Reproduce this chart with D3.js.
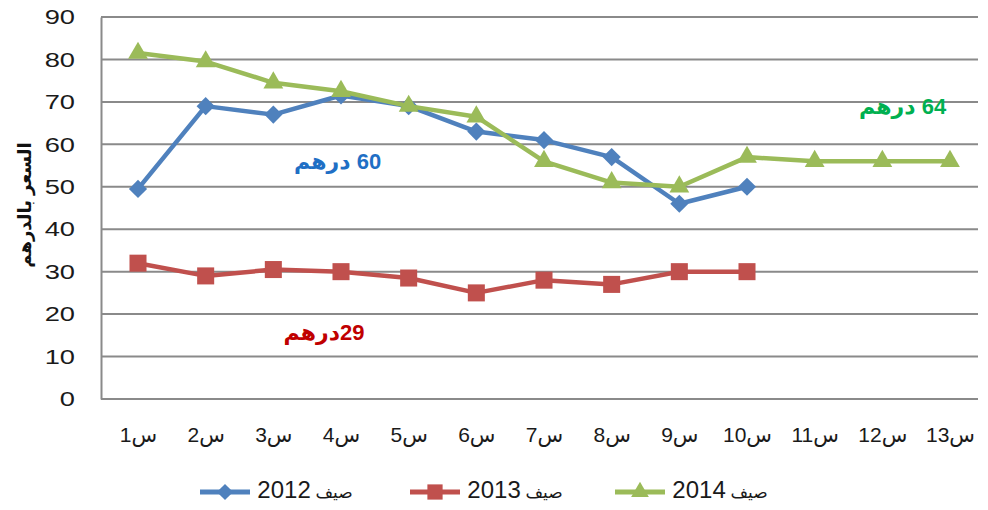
<!DOCTYPE html>
<html>
<head>
<meta charset="utf-8">
<script src="https://cdn.jsdelivr.net/npm/d3@7"></script>
<style>
  body { margin: 0; background: #fff; }
  text { font-family: "Liberation Sans", Arial, "DejaVu Sans", sans-serif; }
</style>
</head>
<body>
<svg id="chart" width="988" height="510"></svg>
<script>
// prices per week, summers 2012-2014
var categories = ["س1", "س2", "س3", "س4", "س5", "س6", "س7", "س8", "س9", "س10", "س11", "س12", "س13"];
var summer2012 = [49.5, 69, 67, 71.5, 69, 63, 61, 57, 46, 50];
var summer2013 = [32, 29, 30.5, 30, 28.5, 25, 28, 27, 30, 30];
var summer2014 = [81.5, 79.5, 74.5, 72.5, 69, 66.5, 56, 51, 50, 57, 56, 56, 56];
var seasonWord = "صيف";
var years = ["2012", "2013", "2014"];
var yTicks = [0, 10, 20, 30, 40, 50, 60, 70, 80, 90];
var yTitle = "السعر بالدرهم";
// notes: text, position in category units (1-based), value
var notes = [
  { text: "60 درهم", at: 3.95, value: 56, color: "#1f6fc5" },
  { text: "29درهم", at: 3.75, value: 15.6, color: "#c00000" },
  { text: "64 درهم", at: 12.3, value: 69, color: "#00b050" }
];

var svg = d3.select("#chart");
var margin = {top: 17, right: 7, bottom: 111, left: 101},
    width = +svg.attr("width") - margin.left - margin.right,
    height = +svg.attr("height") - margin.top - margin.bottom,
    g = svg.append("g").attr("transform", "translate(" + margin.left + "," + margin.top + ")");

var x = d3.scalePoint()
    .domain(categories)
    .range([37, width - 31]);

var y = d3.scaleLinear()
    .domain([0, 90])
    .range([height, 0]);

var colors = ["#4f81bd", "#c0504d", "#9bbb59"];
var symbols = [d3.symbolSquare, d3.symbolSquare, d3.symbolTriangle];
var symSize = [165, 290, 170];
var symRot = [45, 0, 0];
var stretch = 1.3; // reference text is drawn wide

// gridlines
g.selectAll(".grid")
  .data(yTicks)
  .enter().append("line")
    .attr("x1", 0)
    .attr("x2", width - 3)
    .attr("y1", function(d) { return y(d); })
    .attr("y2", function(d) { return y(d); })
    .attr("stroke", "#8a8a8a")
    .attr("stroke-width", 2);

var yAxis = g.append("g")
    .call(d3.axisLeft(y).tickValues(yTicks).tickSize(0).tickPadding(26));
yAxis.select(".domain").attr("stroke", "#8a8a8a").attr("stroke-width", 2);
yAxis.selectAll("text")
    .attr("x", -26 / stretch)
    .attr("transform", "scale(" + stretch + ",1)")
    .attr("font-size", 21)
    .attr("fill", "#1a1a1a");

var xAxis = g.append("g")
    .attr("transform", "translate(0," + height + ")")
    .call(d3.axisBottom(x).tickSize(0).tickPadding(28));
xAxis.select(".domain").attr("stroke", "#8a8a8a").attr("stroke-width", 2).attr("d", "M0,0H" + (width - 3));
xAxis.selectAll("text")
    .attr("font-size", 21)
    .attr("fill", "#1a1a1a")
    .attr("direction", "rtl")
    .attr("text-anchor", "middle");

svg.append("text")
    .attr("transform", "translate(31,205) rotate(-90)")
    .attr("text-anchor", "middle")
    .attr("font-size", 18)
    .attr("font-weight", "bold")
    .attr("fill", "#111")
    .text(yTitle);

var series = [summer2012, summer2013, summer2014];

var line = d3.line()
    .x(function(d, i) { return x(categories[i]); })
    .y(function(d) { return y(d); });

series.forEach(function(s, k) {
  g.append("path")
      .datum(s)
      .attr("fill", "none")
      .attr("stroke", colors[k])
      .attr("stroke-width", 4.5)
      .attr("stroke-linejoin", "round")
      .attr("d", line);

  g.selectAll(".m" + k)
    .data(s)
    .enter().append("path")
      .attr("transform", function(d, i) { return "translate(" + x(categories[i]) + "," + y(d) + ") rotate(" + symRot[k] + ")"; })
      .attr("d", d3.symbol().type(symbols[k]).size(symSize[k]))
      .attr("fill", colors[k]);
});

var step = x.step();
g.selectAll(".note")
  .data(notes)
  .enter().append("text")
    .attr("x", function(d) { return x(categories[0]) + (d.at - 1) * step; })
    .attr("y", function(d) { return y(d.value); })
    .attr("dy", "0.35em")
    .attr("direction", "rtl")
    .attr("text-anchor", "middle")
    .attr("font-size", 22)
    .attr("font-weight", "bold")
    .attr("fill", function(d) { return d.color; })
    .text(function(d) { return d.text; });

// legend
var legend = svg.append("g").attr("transform", "translate(200,492)");
var lx = [0, 210, 415];
var item = legend.selectAll(".item")
  .data(years)
  .enter().append("g")
    .attr("transform", function(d, i) { return "translate(" + lx[i] + ",0)"; });

item.append("line")
    .attr("x1", 0).attr("x2", 50)
    .attr("stroke", function(d, i) { return colors[i]; })
    .attr("stroke-width", 5);

item.append("path")
    .attr("transform", function(d, i) { return "translate(25,0) rotate(" + symRot[i] + ")"; })
    .attr("d", function(d, i) { return d3.symbol().type(symbols[i]).size(symSize[i] * 0.8)(); })
    .attr("fill", function(d, i) { return colors[i]; });

var label = item.append("text")
    .attr("x", 105)
    .attr("dy", "0.35em")
    .attr("direction", "rtl")
    .attr("text-anchor", "middle")
    .attr("fill", "#1a1a1a");
label.append("tspan")
    .attr("font-size", 17)
    .text(seasonWord + " ");
label.append("tspan")
    .attr("font-size", 24)
    .text(function(d) { return d; });
</script>
</body>
</html>
